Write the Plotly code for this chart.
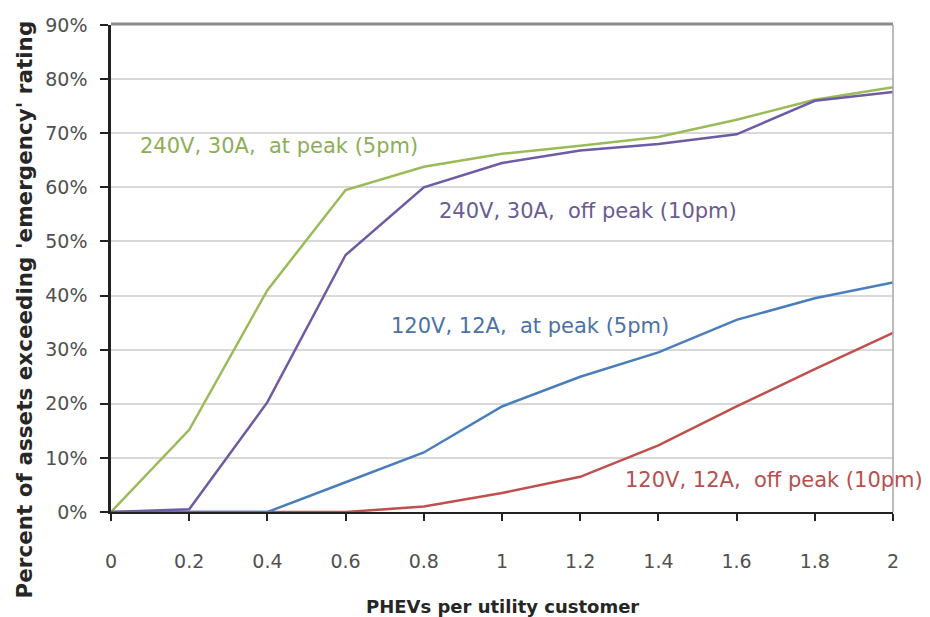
import plotly.graph_objects as go

x_vals = [0, 0.2, 0.4, 0.6, 0.8, 1.0, 1.2, 1.4, 1.6, 1.8, 2.0]
green_240_peak = [0.0, 0.152, 0.41, 0.595, 0.638, 0.662, 0.677, 0.693, 0.725, 0.762, 0.785]
purple_240_off = [0.0, 0.005, 0.203, 0.475, 0.60, 0.645, 0.668, 0.68, 0.698, 0.76, 0.776]
blue_120_peak = [0.0, 0.0, 0.0, 0.055, 0.11, 0.195, 0.25, 0.295, 0.355, 0.395, 0.424]
red_120_off = [0.0, 0.0, 0.0, 0.0, 0.01, 0.035, 0.065, 0.123, 0.195, 0.264, 0.331]

series_names = ["240V, 30A,\u00a0 at peak (5pm)", "240V, 30A,\u00a0 off peak (10pm)",
                "120V, 12A,\u00a0 at peak (5pm)", "120V, 12A,\u00a0 off peak (10pm)"]
line_colors = ["#9BBB59", "#6E5BA3", "#4A7EBB", "#C0504D"]
text_colors = ["#8DAE55", "#6A5B92", "#4B72A6", "#B5514F"]
y_ticks = [0, 0.1, 0.2, 0.3, 0.4, 0.5, 0.6, 0.7, 0.8, 0.9]
x_ticks = [0, 0.2, 0.4, 0.6, 0.8, 1, 1.2, 1.4, 1.6, 1.8, 2]
x_tick_text = ["0", "0.2", "0.4", "0.6", "0.8", "1", "1.2", "1.4", "1.6", "1.8", "2"]
x_title = "PHEVs per utility customer"
y_title = "Percent of assets exceeding 'emergency' rating"

fig = go.Figure()
for ys, name, col in [(red_120_off, series_names[3], line_colors[3]),
                      (blue_120_peak, series_names[2], line_colors[2]),
                      (green_240_peak, series_names[0], line_colors[0]),
                      (purple_240_off, series_names[1], line_colors[1])]:
    fig.add_trace(go.Scatter(x=x_vals, y=ys, mode="lines", name=name,
                             line=dict(color=col, width=2.5), showlegend=False))

font_family = "DejaVu Sans, sans-serif"

fig.update_layout(
    width=930, height=617,
    margin=dict(l=111, r=37, t=25, b=105),
    paper_bgcolor="white", plot_bgcolor="white",
    font=dict(family=font_family, color="#505050"),
    xaxis=dict(range=[0, 2], tickvals=x_ticks, ticktext=x_tick_text,
               showgrid=False, zeroline=False, automargin=False,
               showline=True, linecolor="#222222", linewidth=2,
               ticks="outside", ticklen=7, tickwidth=2, tickcolor="#222222",
               ticklabelstandoff=24,
               tickfont=dict(size=19, color="#505050")),
    yaxis=dict(range=[0, 0.9], tickvals=y_ticks, tickformat=".0%",
               showgrid=True, gridcolor="#D9D9D9", gridwidth=1.5, zeroline=False,
               automargin=False,
               showline=True, linecolor="#222222", linewidth=2.5,
               ticks="outside", ticklen=8, tickwidth=2, tickcolor="#222222",
               ticklabelstandoff=9,
               tickfont=dict(size=19, color="#505050")),
)

# gray plot border (top and right)
fig.add_shape(type="line", xref="paper", yref="paper", x0=0, x1=1, y0=1.002, y1=1.002,
              line=dict(color="#8C8C8C", width=3), layer="above")
fig.add_shape(type="line", xref="paper", yref="paper", x0=1, x1=1, y0=0, y1=1,
              line=dict(color="#A6A6A6", width=1.5), layer="above")

# axis titles
fig.add_annotation(xref="paper", yref="paper", x=0.5, y=0, yshift=-94,
                   text="<b>" + x_title + "</b>", showarrow=False,
                   xanchor="center", yanchor="middle",
                   font=dict(size=18, color="#262626", family=font_family))
fig.add_annotation(xref="paper", yref="paper", x=0, y=0.5, xshift=-87, yshift=-41,
                   text="<b>" + y_title + "</b>", showarrow=False, textangle=-90,
                   xanchor="center", yanchor="middle",
                   font=dict(size=21.5, color="#262626", family=font_family))

labels = [
    (0.07, 0.677, series_names[0], text_colors[0]),
    (0.835, 0.557, series_names[1], text_colors[1]),
    (0.71, 0.343, series_names[2], text_colors[2]),
    (1.31, 0.059, series_names[3], text_colors[3]),
]
for lx, ly, txt, col in labels:
    fig.add_annotation(x=lx, y=ly, text=txt, showarrow=False, xanchor="left",
                       yanchor="middle", font=dict(size=21, color=col,
                                                   family=font_family))

fig.write_html("out.html", config={"displayModeBar": False},
               post_script="document.body.style.margin='0';")
